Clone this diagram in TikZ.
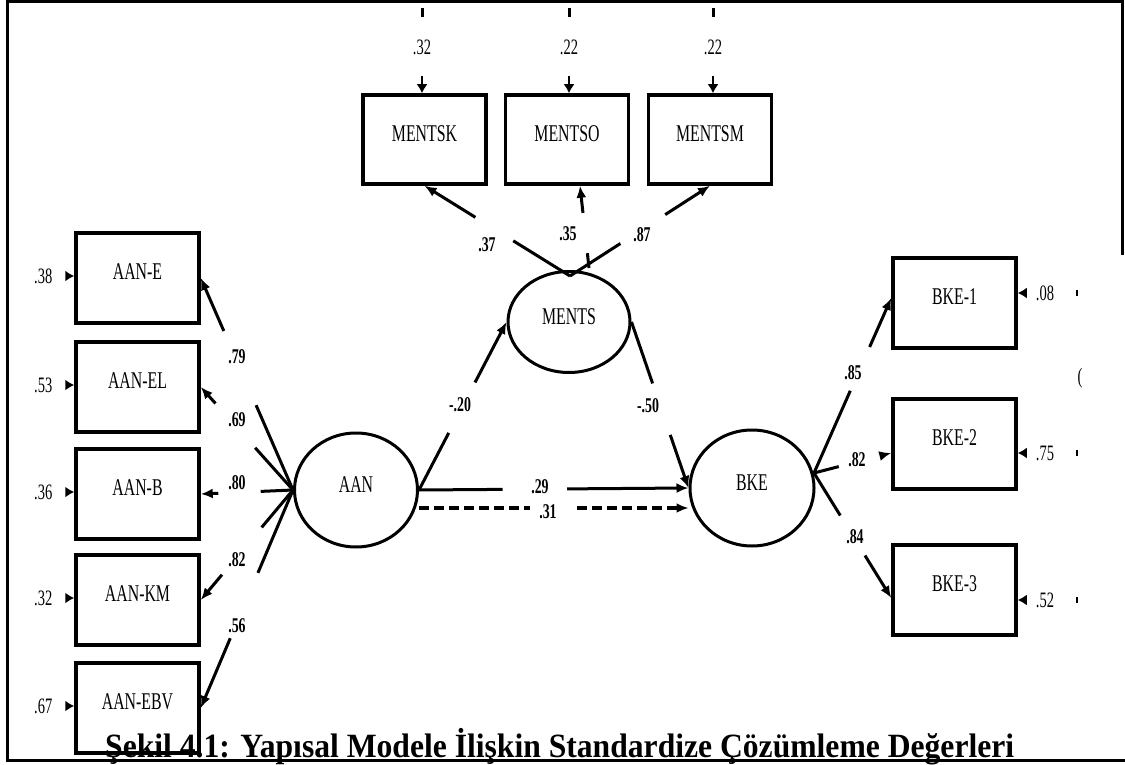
\documentclass[tikz,border=0pt]{standalone}
\usepackage{fontspec}
\usetikzlibrary{shapes.geometric,arrows.meta,calc}
\newfontfamily\amosfont[FakeStretch=0.66]{Liberation Serif}
\newfontfamily\capfont[FakeStretch=0.93]{Liberation Serif}

\tikzset{
  obs/.style={draw, line width=3.5pt, minimum width=123pt, minimum height=90pt, inner sep=0pt,
    text depth=12pt, font=\amosfont\fontsize{24}{24}\selectfont},
  lat/.style={draw, ellipse, line width=3pt, inner sep=0pt, text depth=10pt,
    font=\amosfont\fontsize{24}{24}\selectfont},
  coef/.style={inner sep=0pt, font=\amosfont\bfseries\fontsize{21}{21}\selectfont},
  errv/.style={inner sep=0pt, font=\amosfont\fontsize{22}{22}\selectfont},
  lnk/.style={line width=3pt},
  arr/.style={lnk, -{Latex[length=12pt,width=10pt]}},
  errarr/.style={line width=2pt, -{Latex[length=9pt,width=11pt]}},
}

\begin{document}
\begin{tikzpicture}[x=1pt, y=-1pt]
    \useasboundingbox (0,0) rectangle (1125,765);

    % Caption (the frame line runs through it)
    \node[anchor=base west, inner sep=0pt, font=\capfont\bfseries\fontsize{34}{34}\selectfont] (cap) at (105,757)
        {Şekil 4.1: Yapısal Modele İlişkin Standardize Çözümleme Değerleri};

    % Latent variables
    \node[lat, minimum width=123pt, minimum height=114pt] (aan) at (356,490) {AAN};
    \node[lat, minimum width=122pt, minimum height=101pt] (ments) at (569,322) {MENTS};
    \node[lat, minimum width=124pt, minimum height=116pt] (bke) at (752,488) {BKE};

    % Left indicators (AAN)
    \foreach \n/\t/\y/\v in {aanE/AAN-E/278/.38, aanEL/AAN-EL/387/.53, aanB/AAN-B/494/.36,
                             aanKM/AAN-KM/600/.32, aanEBV/AAN-EBV/708/.67} {
        \node[obs] (\n) at (137.5,\y) {\t};
        \node[errv] (e\n) at ($(\n.west)+(-31,-2)$) {\v};
        \draw[errarr, shorten <=18pt] (e\n) -- (\n.west |- e\n);
    }
    \coordinate (aanW) at (aan.west);
    % loadings, broken around their values
    \foreach \n/\a/\c/\v/\y in {aanE/0.40/0.75/.79/357, aanEL/0.41/0.84/.69/420, aanB/0.35/0.81/.80/483,
                                aanKM/0.34/0.77/.82/560, aanEBV/0.38/0.68/.56/626} {
        \draw[lnk] (aanW) -- ($(aanW)!\a!(\n.east)$);
        \draw[arr] ($(aanW)!\c!(\n.east)$) -- (\n.east);
        \node[coef] (l\n) at (237,\y) {\v};
    }

    % Top indicators (MENTS)
    \node[obs, minimum height=89pt] (mentsk) at (424.5,139.5) {MENTSK};
    \node[obs, minimum height=89pt] (mentso) at (567,139.5) {MENTSO};
    \node[obs, minimum height=89pt] (mentsm) at (710,139.5) {MENTSM};
    \foreach \n/\x/\v in {mentsk/422/.32, mentso/569/.22, mentsm/713/.22} {
        \coordinate (t\n) at (\x,8);
        \node[errv] (e\n) at (\x,47) {\v};
        \draw[lnk, shorten >=22pt] (t\n) -- (e\n);
        \draw[errarr, shorten <=21pt] (e\n) -- (\n.north -| e\n);
    }
    \coordinate (mtop) at (570,276);
    \coordinate (mtop2) at (589,268);
    \coordinate (mso) at ([xshift=13pt]mentso.south);
    \draw[lnk] (mtop) -- ($(mtop)!0.39!(mentsk.south)$);
    \draw[arr] ($(mtop)!0.65!(mentsk.south)$) -- (mentsk.south);
    \draw[lnk] (mtop2) -- ($(mtop2)!0.18!(mso)$);
    \draw[arr] ($(mtop2)!0.67!(mso)$) -- (mso);
    \draw[lnk] (mtop) -- ($(mtop)!0.36!(mentsm.south)$);
    \draw[arr] ($(mtop)!0.68!(mentsm.south)$) -- (mentsm.south);
    \node[coef] (l37) at (487,245) {.37};
    \node[coef] (l35) at (568,234) {.35};
    \node[coef] (l87) at (642,235) {.87};

    % Structural paths
    \draw[lnk] (aan.east) -- ($(aan.east)!0.34!(ments.west)$);
    \draw[arr] ($(aan.east)!0.64!(ments.west)$) -- (ments.west);
    \node[coef] (l20) at (460,405) {-.20};
    \draw[lnk] (ments.east) -- ($(ments.east)!0.37!(bke.west)$);
    \draw[arr] ($(ments.east)!0.68!(bke.west)$) -- (bke.west);
    \node[coef] (l50) at (648,406) {-.50};
    \draw[lnk] (aan.east) -- ($(aan.east)!0.31!(bke.west)$);
    \draw[arr] ($(aan.east)!0.55!(bke.west)$) -- (bke.west);
    \node[coef] (l29) at (540,487) {.29};
    \coordinate (aanD) at ([yshift=-18pt]aan.east);
    \coordinate (bkeD) at ([yshift=-20pt]bke.west);
    \draw[lnk, line width=4pt, dash pattern=on 10pt off 5pt] (aanD) -- ($(aanD)!0.41!(bkeD)$);
    \draw[arr, line width=4pt, dash pattern=on 10pt off 5pt] ($(aanD)!0.585!(bkeD)$) -- (bkeD);
    \node[coef] (l31) at (548,512) {.31};

    % Right indicators (BKE)
    \node[obs] (bke1) at (954.5,303) {BKE-1};
    \node[obs] (bke2) at (954.5,444) {BKE-2};
    \node[obs] (bke3) at (954.5,590) {BKE-3};
    \coordinate (bkeR) at (814,473);
    \coordinate (b1) at ([yshift=5pt]bke1.west);
    \coordinate (b2) at ([yshift=-9pt]bke2.west);
    \coordinate (b3) at ([yshift=-8pt]bke3.west);
    \foreach \n/\a/\c/\v/\x/\y in {b1/0.47/0.72/.85/853/373, b2/0.32/0.87/.82/857/460, b3/0.34/0.66/.84/855/537} {
        \draw[lnk] (bkeR) -- ($(bkeR)!\a!(\n)$);
        \draw[arr] ($(bkeR)!\c!(\n)$) -- (\n);
        \node[coef] (l\n) at (\x,\y) {\v};
    }
    \foreach \n/\y/\v in {bke1/293/.08, bke2/453/.75, bke3/600/.52} {
        \node[errv] (e\n) at (1045,\y) {\v};
        \draw[errarr, shorten <=15pt] (e\n) -- (\n.east |- e\n);
        \coordinate (r\n) at (1077,\y);
        \draw[line width=1.5pt] ([yshift=3pt]r\n) -- ([yshift=-3pt]r\n);
    }
    \node[errv] (rpar) at (1080,378) {(};

    % Frame
    \draw[line width=3pt] (1122,255) -- (1122,2) -- (7,2) -- (7,760) -- (1125,760);
\end{tikzpicture}
\end{document}
